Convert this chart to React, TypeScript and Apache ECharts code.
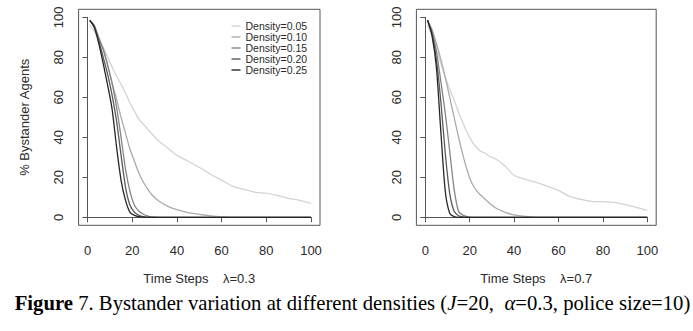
import React, { useEffect, useRef } from 'react';
import * as echarts from 'echarts';

const timeSteps = [1, 3, 5, 7, 9, 11, 13, 15, 17, 19, 21, 23, 25, 27, 29, 32, 36, 40, 45, 50, 55, 60, 65, 70, 75, 80, 85, 90, 95, 100];
const densityNames = ['Density=0.05', 'Density=0.10', 'Density=0.15', 'Density=0.20', 'Density=0.25'];
const densityColors = ['#d3d3d3', '#ababab', '#858585', '#5a5a5a', '#262626'];

// lambda = 0.3
const lam03_d005 = [96, 93, 89, 85, 80, 75, 70.5, 66.5, 62, 57, 53, 49, 46.5, 44, 41.5, 38, 34.5, 31, 28, 25, 21.5, 18.5, 15.5, 14, 12.5, 12, 11, 9.5, 8.5, 7];
const lam03_d010 = [98.5, 95, 89, 84, 76, 67, 59, 50, 42, 34, 28, 22, 17.5, 14, 11, 8, 5.5, 3.8, 2.3, 1.5, 0.7, 0.2, 0, 0, 0, 0, 0, 0, 0, 0];
const lam03_d015 = [98.5, 96, 90, 84, 76, 67, 55, 40, 24, 13, 6, 3, 1.5, 0.6, 0.2, 0, 0, 0, 0, 0, 0, 0, 0, 0, 0, 0, 0, 0, 0, 0];
const lam03_d020 = [98.5, 95.5, 88.5, 80, 71.5, 61, 48, 31, 15, 6, 2.5, 1, 0.3, 0.1, 0, 0, 0, 0, 0, 0, 0, 0, 0, 0, 0, 0, 0, 0, 0, 0];
const lam03_d025 = [98.5, 95, 87, 77, 66, 54, 35, 18.5, 8.5, 2.5, 1, 0.3, 0.1, 0, 0, 0, 0, 0, 0, 0, 0, 0, 0, 0, 0, 0, 0, 0, 0, 0];

// lambda = 0.7
const lam07_d005 = [96, 91, 84, 77, 70, 64, 58.5, 52.5, 47, 42, 38, 35, 33, 32, 30.5, 29, 25.5, 21, 19, 17.5, 15.5, 13.5, 10.5, 9, 8, 7.8, 7.5, 6.3, 5, 3.5];
const lam07_d010 = [98.5, 94, 87, 79, 70, 60, 50, 40, 31, 23, 17, 13.5, 11, 9, 7, 4.5, 2.5, 1.2, 0.4, 0, 0, 0, 0, 0, 0, 0, 0, 0, 0, 0];
const lam07_d015 = [98.5, 93, 83, 68, 52, 33, 14, 3, 1, 0.3, 0, 0, 0, 0, 0, 0, 0, 0, 0, 0, 0, 0, 0, 0, 0, 0, 0, 0, 0, 0];
const lam07_d020 = [98.5, 92, 79, 58, 32, 12, 3, 0.8, 0.2, 0, 0, 0, 0, 0, 0, 0, 0, 0, 0, 0, 0, 0, 0, 0, 0, 0, 0, 0, 0, 0];
const lam07_d025 = [98.5, 91, 75, 43, 13, 2, 0.3, 0, 0, 0, 0, 0, 0, 0, 0, 0, 0, 0, 0, 0, 0, 0, 0, 0, 0, 0, 0, 0, 0, 0];

const lam03Series = [lam03_d005, lam03_d010, lam03_d015, lam03_d020, lam03_d025];
const lam07Series = [lam07_d005, lam07_d010, lam07_d015, lam07_d020, lam07_d025];

const yAxisTitle = '% Bystander Agents';
const xTitleLeft = 'Time Steps\u00a0\u00a0\u00a0\u00a0\u03bb=0.3';
const xTitleRight = 'Time Steps\u00a0\u00a0\u00a0\u00a0\u03bb=0.7';
const axisMin = 0;
const axisMax = 100;
const axisInterval = 20;

const SANS = '"Liberation Sans", Arial, Helvetica, sans-serif';
const SERIF = '"Liberation Serif", "Times New Roman", serif';
const FRAME = '#555555';
const TEXT = '#2a2a2a';

function boxAxis(gridIndex: number) {
  return { type: 'value', gridIndex, min: -4, max: 104, show: false };
}

function tickXAxis(gridIndex: number, name: string) {
  return {
    type: 'value', gridIndex, min: axisMin, max: axisMax, interval: axisInterval,
    position: 'bottom', offset: 11.5,
    axisLine: { show: true, lineStyle: { color: FRAME, width: 1 } },
    axisTick: { show: true, length: 5, lineStyle: { color: FRAME, width: 1 } },
    axisLabel: { color: TEXT, fontSize: 13, fontFamily: SANS, margin: 15 },
    splitLine: { show: false },
    name, nameLocation: 'middle', nameGap: 43,
    nameTextStyle: { color: TEXT, fontSize: 13, fontFamily: SANS },
  };
}

function tickYAxis(gridIndex: number, name: string) {
  return {
    type: 'value', gridIndex, min: axisMin, max: axisMax, interval: axisInterval,
    position: 'left', offset: 14.5,
    axisLine: { show: true, lineStyle: { color: FRAME, width: 1 } },
    axisTick: { show: true, length: 5, lineStyle: { color: FRAME, width: 1 } },
    axisLabel: { color: TEXT, fontSize: 13, fontFamily: SANS, margin: 8, rotate: 90 },
    splitLine: { show: false },
    name, nameLocation: 'middle', nameGap: 42, nameRotate: 90,
    nameTextStyle: { color: TEXT, fontSize: 13, fontFamily: SANS },
  };
}

export default function App() {
  const ref = useRef<HTMLDivElement>(null);
  useEffect(() => {
    if (!ref.current) return;
    const chart = echarts.init(ref.current, undefined, { renderer: 'svg' });
    const makeSeries = (sets: number[][], axisIdx: number) =>
      sets.map((vals, k) => ({
        type: 'line',
        name: densityNames[k],
        xAxisIndex: axisIdx,
        yAxisIndex: axisIdx,
        data: timeSteps.map((t, i) => [t, vals[i]]),
        showSymbol: false,
        symbol: 'none',
        smooth: 0.25,
        lineStyle: { color: densityColors[k], width: 1.3 },
        itemStyle: { color: densityColors[k] },
        z: 3 + k,
        silent: true,
      }));
    chart.setOption({
      animation: false,
      backgroundColor: '#ffffff',
      textStyle: { fontFamily: SANS },
      grid: [
        { left: 78.6, top: 9.3, width: 241.4, height: 216, show: true, borderColor: FRAME, borderWidth: 1, backgroundColor: 'transparent' },
        { left: 87.5, top: 17.3, width: 223.5, height: 200, show: false },
        { left: 416.4, top: 9.3, width: 239.8, height: 216, show: true, borderColor: FRAME, borderWidth: 1, backgroundColor: 'transparent' },
        { left: 425.3, top: 17.3, width: 222, height: 200, show: false },
      ],
      xAxis: [boxAxis(0), tickXAxis(1, xTitleLeft), boxAxis(2), tickXAxis(3, xTitleRight)],
      yAxis: [boxAxis(0), tickYAxis(1, yAxisTitle), boxAxis(2), tickYAxis(3, '')],
      legend: {
        data: densityNames,
        orient: 'vertical',
        left: 231.5,
        top: 20.5,
        padding: 0,
        icon: 'rect',
        itemWidth: 9,
        itemHeight: 1.4,
        itemGap: 0,
        selectedMode: false,
        textStyle: { fontSize: 10.5, lineHeight: 9.3, color: TEXT, fontFamily: SANS },
      },
      graphic: [
        {
          type: 'text',
          x: 352.5,
          y: 303,
          scaleX: 1.035,
          style: {
            text: '{b|Figure} 7. Bystander variation at different densities ({i|J}=20,\u00a0\u00a0{i|\u03b1}=0.3, police size=10)',
            align: 'center',
            verticalAlign: 'middle',
            fontFamily: SERIF,
            fontSize: 20,
            fill: '#000',
            rich: {
              b: { fontFamily: SERIF, fontSize: 20, fontWeight: 'bold', fill: '#000' },
              i: { fontFamily: SERIF, fontSize: 20, fontStyle: 'italic', fill: '#000' },
            },
          },
        },
      ],
      series: [...makeSeries(lam03Series, 0), ...makeSeries(lam07Series, 2)],
    });
    return () => chart.dispose();
  }, []);
  return <div ref={ref} style={{ position: 'absolute', left: 0, top: 0, width: 693, height: 331, background: '#fff' }} />;
}
